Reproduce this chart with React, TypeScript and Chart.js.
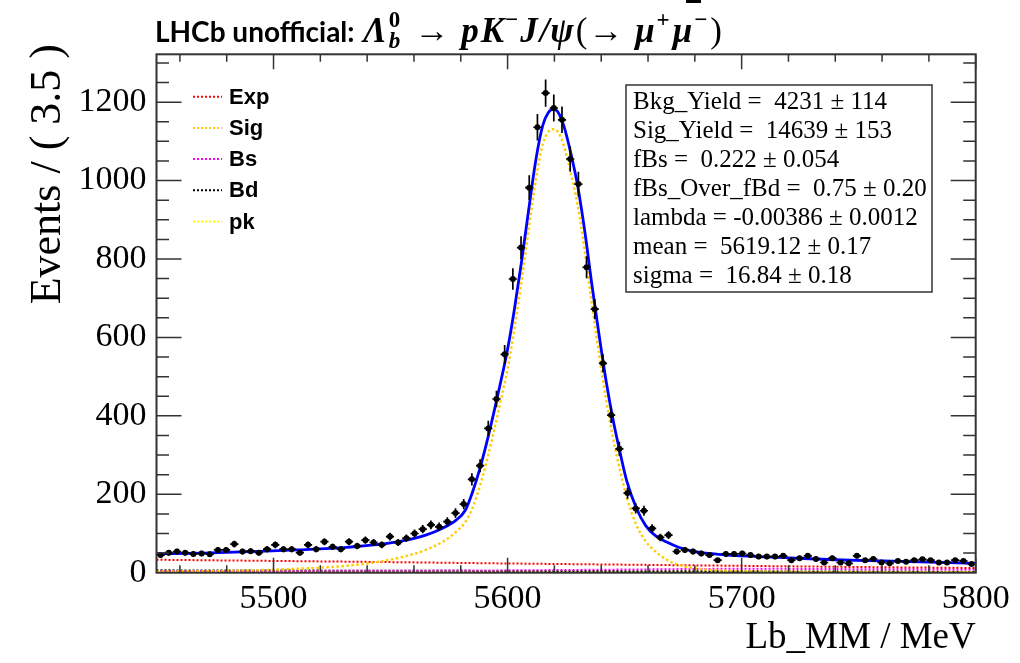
import React, { useEffect, useRef } from "react";
import { Chart, registerables } from "chart.js";

Chart.register(...registerables);

// ---------- data ----------
const BIN_START = 5450;
const BIN_WIDTH = 3.5;
const X_MIN = 5450;
const X_MAX = 5800;
const Y_MIN = 0;
const Y_MAX = 1322;

const xTickLabels = [5500, 5600, 5700, 5800];
const yTickLabels = [0, 200, 400, 600, 800, 1000, 1200];

// events per 3.5 MeV bin (100 bins from 5450 to 5800)
const counts = [
  45, 51, 54, 51, 48, 49, 47, 58, 58, 73,
  54, 55, 51, 60, 71, 60, 60, 51, 71, 60,
  79, 66, 60, 79, 68, 83, 77, 71, 92, 77,
  88, 100, 111, 122, 117, 130, 152, 175, 238, 273,
  368, 443, 557, 749, 829, 982, 1136, 1223, 1185, 1155,
  1055, 991, 779, 672, 534, 402, 316, 203, 164, 158,
  113, 90, 96, 54, 58, 54, 49, 45, 32, 48,
  48, 49, 45, 41, 41, 41, 43, 32, 37, 43,
  35, 26, 37, 26, 24, 43, 32, 35, 26, 24,
  30, 28, 32, 34, 32, 26, 26, 32, 30, 22,
];

// total fit (blue)
const totalX = [5450, 5470, 5490, 5510, 5530, 5545, 5555, 5565, 5572, 5578, 5582, 5585, 5588, 5591, 5594, 5597, 5600, 5603, 5606, 5609, 5612, 5615, 5617.5, 5619.5, 5621.5, 5624, 5627, 5630, 5633, 5636, 5639, 5642, 5645, 5648, 5651, 5655, 5659, 5663, 5668, 5673, 5680, 5690, 5700, 5720, 5740, 5760, 5780, 5800];
const totalY = [48, 50, 54, 58, 64, 72, 81, 96, 113, 134, 160, 205, 262, 330, 405, 485, 570, 675, 795, 925, 1050, 1140, 1174, 1182, 1175, 1140, 1070, 985, 870, 735, 610, 492, 392, 308, 232, 165, 120, 95, 78, 65, 54, 47, 43, 38, 33, 30, 27, 24];

// signal component (orange dotted)
const sigX = [5450, 5470, 5490, 5510, 5530, 5545, 5555, 5565, 5572, 5578, 5582, 5585, 5588, 5591, 5594, 5597, 5600, 5603, 5606, 5609, 5612, 5615, 5617.5, 5619.5, 5621.5, 5624, 5627, 5630, 5633, 5636, 5639, 5642, 5645, 5648, 5651, 5655, 5659, 5663, 5668, 5673, 5680, 5690, 5700, 5720, 5740, 5760, 5780, 5800];
const sigY = [3, 4, 6, 10, 17, 28, 40, 58, 78, 104, 130, 165, 218, 283, 357, 437, 520, 625, 745, 875, 1000, 1092, 1125, 1131, 1124, 1090, 1020, 935, 818, 685, 560, 445, 345, 262, 190, 122, 80, 55, 33, 20, 11, 6, 4, 2.5, 2, 1.5, 1.2, 1];

// background components
const compX = [5450, 5500, 5550, 5600, 5650, 5700, 5750, 5800];
const expY = [33, 30, 27, 23.5, 20.5, 17.5, 14.5, 12];
const bsY = [4, 4.5, 5, 6, 8, 10, 9, 8];
const bdY = [6, 5.5, 5, 4.5, 4, 3.5, 3, 2.5];
const pkY = [4, 3.5, 3, 3, 2.5, 2, 2, 1.5];

const legendLabels = ["Exp", "Sig", "Bs", "Bd", "pk"];
const legendColors = ["#ff0000", "#ffcc00", "#ff00ff", "#000000", "#ffff00"];

const statsLines = [
  "Bkg_Yield =  4231 ± 114",
  "Sig_Yield =  14639 ± 153",
  "fBs =  0.222 ± 0.054",
  "fBs_Over_fBd =  0.75 ± 0.20",
  "lambda = -0.00386 ± 0.0012",
  "mean =  5619.12 ± 0.17",
  "sigma =  16.84 ± 0.18",
];

const TITLE_PREFIX = "LHCb unofficial: ";
const X_TITLE = "Lb_MM / MeV";
const Y_TITLE = "Events / ( 3.5 )";

const SERIF = '"Liberation Serif", "Times New Roman", serif';
const SANS = '"Liberation Sans", Arial, sans-serif';

function pts(xs: number[], ys: number[]) {
  return xs.map((x, i) => ({ x, y: ys[i] }));
}

const overlayPlugin = {
  id: "overlay",
  afterDatasetsDraw(chart: any) {
    const ctx = chart.ctx as CanvasRenderingContext2D;
    const xs = chart.scales.x;
    const ys = chart.scales.y;
    ctx.save();
    ctx.strokeStyle = "#000";
    ctx.lineWidth = 1.7;
    counts.forEach((c, i) => {
      const lo = BIN_START + BIN_WIDTH * i;
      const hi = lo + BIN_WIDTH;
      const mid = lo + BIN_WIDTH / 2;
      const err = Math.sqrt(c);
      const px = xs.getPixelForValue(mid);
      const py = ys.getPixelForValue(c);
      ctx.beginPath();
      ctx.moveTo(px, ys.getPixelForValue(c - err));
      ctx.lineTo(px, ys.getPixelForValue(c + err));
      ctx.moveTo(xs.getPixelForValue(lo), py);
      ctx.lineTo(xs.getPixelForValue(hi), py);
      ctx.stroke();
    });
    ctx.restore();
  },
  afterDraw(chart: any) {
    const ctx = chart.ctx as CanvasRenderingContext2D;
    const a = chart.chartArea;
    const xs = chart.scales.x;
    const ys = chart.scales.y;
    ctx.save();
    // frame
    ctx.strokeStyle = "#333";
    ctx.lineWidth = 2;
    ctx.strokeRect(a.left, a.top, a.right - a.left, a.bottom - a.top);
    // ticks
    ctx.lineWidth = 1.5;
    ctx.beginPath();
    for (let v = 5460; v <= X_MAX; v += 20) {
      const major = v % 100 === 0;
      const len = major ? 15 : 7.5;
      const px = xs.getPixelForValue(v);
      ctx.moveTo(px, a.bottom);
      ctx.lineTo(px, a.bottom - len);
      ctx.moveTo(px, a.top);
      ctx.lineTo(px, a.top + len);
    }
    for (let v = 50; v <= Y_MAX; v += 50) {
      const major = v % 200 === 0;
      const len = major ? 25 : 12.5;
      const py = ys.getPixelForValue(v);
      ctx.moveTo(a.left, py);
      ctx.lineTo(a.left + len, py);
      ctx.moveTo(a.right, py);
      ctx.lineTo(a.right - len, py);
    }
    ctx.stroke();

    // legend
    ctx.lineWidth = 2;
    ctx.setLineDash([2, 2]);
    legendLabels.forEach((lab, i) => {
      const y = 96.7 + i * 31.2;
      ctx.strokeStyle = legendColors[i];
      ctx.beginPath();
      ctx.moveTo(193, y);
      ctx.lineTo(222, y);
      ctx.stroke();
      ctx.fillStyle = "#000";
      ctx.font = `bold 22px ${SANS}`;
      ctx.textAlign = "left";
      ctx.textBaseline = "middle";
      ctx.fillText(lab, 229, y + 1);
    });
    ctx.setLineDash([]);

    // stats box
    ctx.fillStyle = "#fff";
    ctx.fillRect(626, 85, 306, 207);
    ctx.strokeStyle = "#333";
    ctx.lineWidth = 1.5;
    ctx.strokeRect(626, 85, 306, 207);
    ctx.fillStyle = "#000";
    ctx.font = `25px ${SERIF}`;
    ctx.textAlign = "left";
    ctx.textBaseline = "alphabetic";
    statsLines.forEach((s, i) => {
      ctx.fillText(s, 633, 109 + i * 29);
    });

    // y-axis title
    ctx.save();
    ctx.translate(60, 44);
    ctx.rotate(-Math.PI / 2);
    ctx.font = `44px ${SERIF}`;
    ctx.textAlign = "right";
    ctx.textBaseline = "alphabetic";
    ctx.fillText(Y_TITLE, 0, 0);
    ctx.restore();

    // title
    let x = 155;
    const base = 42;
    ctx.textAlign = "left";
    ctx.textBaseline = "alphabetic";
    const seg = (text: string, font: string, dy = 0, gap = 0) => {
      ctx.font = font;
      ctx.fillText(text, x, base + dy);
      x += ctx.measureText(text).width + gap;
    };
    const mathB = `italic bold 35px ${SERIF}`;
    const mathR = `35px ${SERIF}`;
    const supF = `bold 23px ${SERIF}`;
    seg(TITLE_PREFIX, `bold 28px Lato, ${SANS}`, 0, 2);
    seg("Λ", mathB, 0, 1);
    ctx.font = supF;
    ctx.fillText("0", x + 1, base - 15);
    ctx.font = `italic bold 23px ${SERIF}`;
    ctx.fillText("b", x + 1, base + 6);
    x += 18;
    seg(" → ", mathR, 0, 3);
    seg("p", mathB, 0, 2);
    seg("K", mathB, 0, 1);
    seg("−", supF, -15, 2);
    seg("J", mathB, 0, 2);
    seg("/", mathB, 0, 1);
    seg("ψ", mathB, 0, 2);
    seg("(", mathR, 0, 1);
    seg("→ ", mathR, 0, 3);
    seg("μ", mathB, 0, 2);
    seg("+", supF, -15, 3);
    seg("μ", mathB, 0, 2);
    seg("−", supF, -15, 3);
    seg(")", mathR);
    // small clipped overline mark at the top edge
    ctx.fillStyle = "#000";
    ctx.fillRect(686, 0, 15, 3);
    ctx.restore();
  },
};

export default function App() {
  const ref = useRef<HTMLCanvasElement | null>(null);
  useEffect(() => {
    if (!ref.current) return;
    const dotted = (color: string, ys: number[], order: number) => ({
      type: "line" as const,
      data: pts(compX, ys),
      borderColor: color,
      borderWidth: 2,
      borderDash: [2, 2],
      pointRadius: 0,
      cubicInterpolationMode: "monotone" as const,
      order,
    });
    const chart = new Chart(ref.current, {
      type: "scatter",
      data: {
        datasets: [
          {
            type: "scatter",
            label: "data",
            data: counts.map((c, i) => ({ x: BIN_START + BIN_WIDTH * (i + 0.5), y: c })),
            pointRadius: 3,
            pointBackgroundColor: "#000",
            pointBorderWidth: 0,
            order: 0,
          } as any,
          {
            type: "line",
            label: "Total",
            data: pts(totalX, totalY),
            borderColor: "#0000ff",
            borderWidth: 2.8,
            pointRadius: 0,
            cubicInterpolationMode: "monotone",
            order: 1,
          } as any,
          {
            type: "line",
            label: "Sig",
            data: pts(sigX, sigY),
            borderColor: "#ffcc00",
            borderWidth: 2.4,
            borderDash: [2.5, 2.5],
            pointRadius: 0,
            cubicInterpolationMode: "monotone",
            order: 2,
          } as any,
          dotted("#ff0000", expY, 3) as any,
          dotted("#ff00ff", bsY, 4) as any,
          dotted("#000000", bdY, 5) as any,
          dotted("#ffff00", pkY, 6) as any,
        ],
      },
      options: {
        animation: false,
        responsive: false,
        maintainAspectRatio: false,
        layout: { padding: { top: 54.3, right: 44.3, left: 0, bottom: 0 } },
        plugins: { legend: { display: false }, tooltip: { enabled: false } },
        scales: {
          x: {
            type: "linear",
            min: X_MIN,
            max: X_MAX,
            afterBuildTicks: (s: any) => {
              s.ticks = xTickLabels.map((v) => ({ value: v }));
            },
            afterFit: (s: any) => {
              s.height = 90.3;
            },
            grid: { display: false, drawTicks: false },
            border: { display: false },
            ticks: {
              color: "#000",
              font: { family: SERIF, size: 34 },
              padding: 6,
              autoSkip: false,
              maxRotation: 0,
              callback: (v: any) => String(v),
            },
            title: {
              display: true,
              text: X_TITLE,
              align: "end",
              color: "#000",
              font: { family: SERIF, size: 37 },
              padding: { top: 0, bottom: 3 },
            },
          },
          y: {
            type: "linear",
            min: Y_MIN,
            max: Y_MAX,
            afterBuildTicks: (s: any) => {
              s.ticks = yTickLabels.map((v) => ({ value: v }));
            },
            afterFit: (s: any) => {
              s.width = 156.5;
            },
            grid: { display: false, drawTicks: false },
            border: { display: false },
            ticks: {
              color: "#000",
              font: { family: SERIF, size: 34 },
              padding: 10,
              autoSkip: false,
              callback: (v: any) => String(v),
            },
          },
        },
      } as any,
      plugins: [overlayPlugin],
    });
    return () => chart.destroy();
  }, []);
  return (
    <div style={{ position: "absolute", left: 0, top: 0, width: 1020, height: 663, background: "#fff" }}>
      <canvas ref={ref} width={1020} height={663} style={{ display: "block" }} />
    </div>
  );
}
